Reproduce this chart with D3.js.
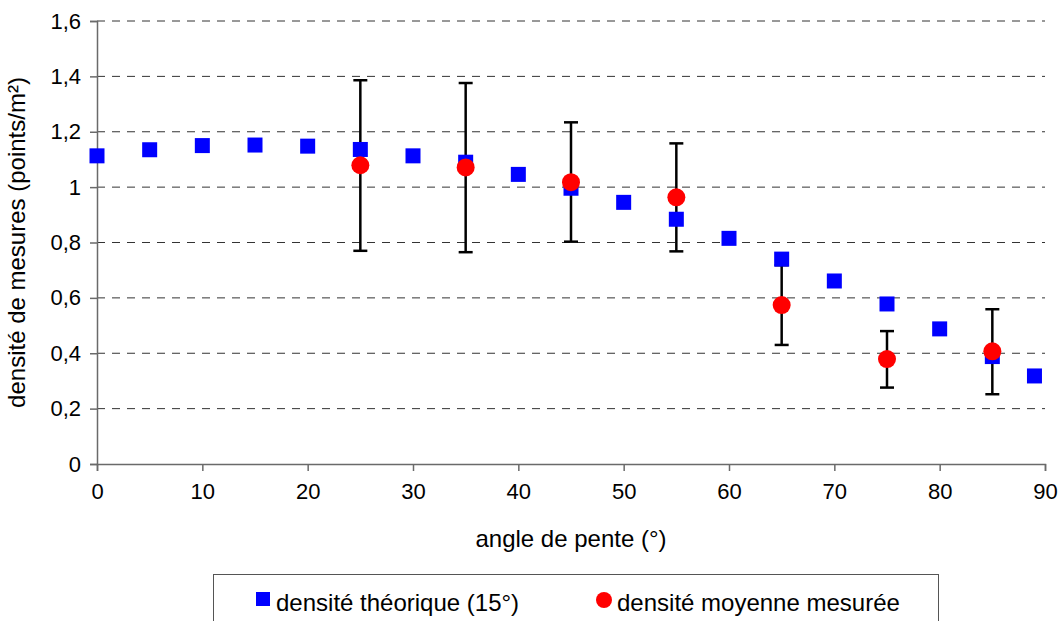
<!DOCTYPE html>
<html lang="fr">
<head>
<meta charset="UTF-8">
<title>densité de mesures</title>
<script src="https://d3js.org/d3.v7.min.js"></script>
<style>
  body { margin: 0; background: #fff; }
  svg text { font-family: "Liberation Sans", Arial, sans-serif; fill: #000; }
</style>
</head>
<body>
<svg width="1062" height="621"></svg>
<script>
// theoretical density (15°)
var thAngles = [0, 5, 10, 15, 20, 25, 30, 35, 40, 45, 50, 55, 60, 65, 70, 75, 80, 85, 89];
var thValues = [1.113, 1.135, 1.150, 1.152, 1.148, 1.136, 1.113, 1.090, 1.046, 0.996, 0.945, 0.884, 0.815, 0.740, 0.661, 0.578, 0.488, 0.388, 0.318];

// mean measured density with error bars
var mesAngles = [25, 35, 45, 55, 65, 75, 85];
var mesValues = [1.079, 1.071, 1.018, 0.963, 0.574, 0.379, 0.407];
var mesLow    = [0.770, 0.765, 0.803, 0.768, 0.430, 0.276, 0.252];
var mesHigh   = [1.386, 1.376, 1.234, 1.158, 0.718, 0.480, 0.559];

var xTicks = [0, 10, 20, 30, 40, 50, 60, 70, 80, 90];
var yTicks = [0, 0.2, 0.4, 0.6, 0.8, 1, 1.2, 1.4, 1.6];

var svg = d3.select("svg");
var plotLeft = 97, plotRight = 1045, plotTop = 21, plotBottom = 464;

var x = d3.scaleLinear().domain([0, 90]).range([plotLeft, plotRight]);
var y = d3.scaleLinear().domain([0, 1.6]).range([plotBottom, plotTop]);

function fmt(d) { return String(d).replace(".", ","); }

// dashed gridlines
svg.append("g").selectAll("line")
    .data(yTicks.filter(function (d) { return d > 0; }))
    .join("line")
    .attr("x1", plotLeft).attr("x2", plotRight)
    .attr("y1", function (d) { return y(d); })
    .attr("y2", function (d) { return y(d); })
    .attr("stroke", "#333")
    .attr("stroke-width", 1)
    .attr("stroke-dasharray", "8,7");

// axes
var yAxis = svg.append("g")
    .attr("transform", "translate(" + plotLeft + ",0)")
    .call(d3.axisLeft(y).tickValues(yTicks).tickFormat(fmt).tickSize(7).tickPadding(9));
var xAxis = svg.append("g")
    .attr("transform", "translate(0," + plotBottom + ")")
    .call(d3.axisBottom(x).tickValues(xTicks).tickSize(7).tickPadding(12));

[xAxis, yAxis].forEach(function (a) {
    a.select(".domain").attr("stroke", "#6a6a6a").attr("stroke-width", 1.5);
    a.selectAll(".tick line").attr("stroke", "#6a6a6a").attr("stroke-width", 1.5);
    a.selectAll("text").style("font-size", "22px").attr("fill", "#000");
});

// axis titles
svg.append("text")
    .attr("x", (plotLeft + plotRight) / 2).attr("y", 547)
    .attr("text-anchor", "middle")
    .style("font-size", "24px")
    .text("angle de pente (°)");
svg.append("text")
    .attr("transform", "translate(25," + ((plotTop + plotBottom) / 2) + ") rotate(-90)")
    .attr("text-anchor", "middle")
    .style("font-size", "24px")
    .text("densité de mesures (points/m²)");

// error bars
var eb = svg.append("g").attr("stroke", "#000").attr("stroke-width", 2.5);
mesAngles.forEach(function (a, i) {
    var cx = x(a);
    eb.append("line").attr("x1", cx).attr("x2", cx).attr("y1", y(mesLow[i])).attr("y2", y(mesHigh[i]));
    eb.append("line").attr("x1", cx - 7).attr("x2", cx + 7).attr("y1", y(mesLow[i])).attr("y2", y(mesLow[i]));
    eb.append("line").attr("x1", cx - 7).attr("x2", cx + 7).attr("y1", y(mesHigh[i])).attr("y2", y(mesHigh[i]));
});

// theoretical squares
var sq = 15;
svg.append("g").selectAll("rect")
    .data(thAngles)
    .join("rect")
    .attr("x", function (d) { return x(d) - sq / 2; })
    .attr("y", function (d, i) { return y(thValues[i]) - sq / 2; })
    .attr("width", sq).attr("height", sq)
    .attr("fill", "#0000ff");

// measured circles
svg.append("g").selectAll("circle")
    .data(mesAngles)
    .join("circle")
    .attr("cx", function (d) { return x(d); })
    .attr("cy", function (d, i) { return y(mesValues[i]); })
    .attr("r", 9)
    .attr("fill", "#ff0000");

// legend
var lg = svg.append("g");
lg.append("rect")
    .attr("x", 213.5).attr("y", 574.5).attr("width", 725).attr("height", 60)
    .attr("fill", "#fff").attr("stroke", "#555").attr("stroke-width", 1);
lg.append("rect").attr("x", 256).attr("y", 592).attr("width", 14).attr("height", 14).attr("fill", "#0000ff");
lg.append("text").attr("x", 276).attr("y", 611).style("font-size", "24px").text("densité théorique (15°)");
lg.append("circle").attr("cx", 604).attr("cy", 600).attr("r", 8).attr("fill", "#ff0000");
lg.append("text").attr("x", 617).attr("y", 611).style("font-size", "24px").text("densité moyenne mesurée");
</script>
</body>
</html>
